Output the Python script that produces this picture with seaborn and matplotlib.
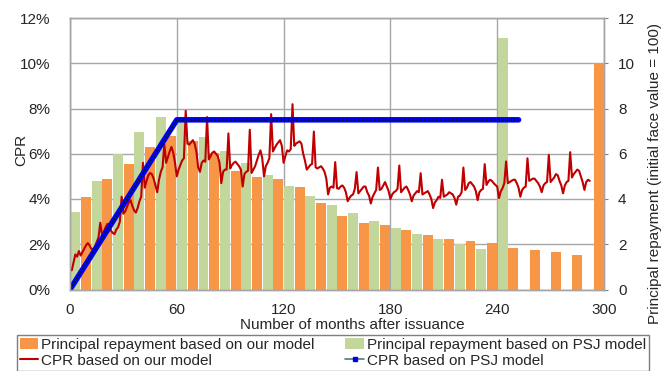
import numpy as np
import pandas as pd
import matplotlib
matplotlib.use("Agg")
import matplotlib.pyplot as plt
from matplotlib.lines import Line2D
from matplotlib.patches import Patch
import seaborn as sns

# -------------------------------
# Data
# -------------------------------
# annual principal repayment, initial face value = 100 (year 1 .. 25)
repay_ours = [4.1, 4.89, 5.55, 6.32, 6.79, 6.57, 6.05, 5.24, 4.99, 4.88,
              4.54, 3.84, 3.24, 2.96, 2.84, 2.63, 2.41, 2.25, 2.16, 2.04,
              1.85, 1.75, 1.65, 1.53, 10.0]
repay_psj = [3.44, 4.8, 6.0, 6.95, 7.63, 7.45, 6.75, 6.14, 5.6, 5.07,
             4.57, 4.14, 3.74, 3.37, 3.04, 2.73, 2.46, 2.22, 2.0, 1.78,
             11.1]

# monthly CPR (%) of our model, month 1 .. 292
cpr_ours = [
    0.85, 1.2, 1.55, 1.45,
    1.7, 1.5, 1.65, 1.8, 1.95, 2.05, 1.95, 1.8, 1.75, 1.9, 2.1, 2.3,
    2.95, 2.4, 2.55, 2.75, 2.9, 2.85, 2.6, 2.5, 2.45, 2.65, 2.75, 3.0,
    4.1, 3.35, 3.45, 3.65, 3.85, 3.95, 3.7, 3.5, 3.4, 3.6, 3.9, 4.1,
    5.6, 4.5, 4.8, 5.05, 5.15, 5.1, 4.9, 4.6, 4.3, 4.85, 5.2, 5.4,
    6.45, 5.6, 5.85, 6.1, 6.3, 6.05, 5.6, 5.0, 5.3, 5.5, 5.7, 5.8,
    7.9, 6.45, 6.4, 6.5, 6.6, 6.45, 6.1, 5.4, 5.2, 5.6, 5.7, 5.65,
    7.62, 5.75, 5.9, 6.05, 6.1, 6.0, 5.9, 5.6, 4.7, 5.2, 5.3, 5.3,
    6.9, 5.35, 5.5, 5.6, 5.65, 5.55, 5.45, 5.3, 4.55, 5.1, 5.2, 5.25,
    7.06, 5.15, 5.3, 5.45, 5.7, 5.95, 6.15, 5.8, 5.0, 5.45, 5.6, 5.8,
    7.75, 6.1, 6.25, 6.4, 6.5, 6.6, 6.35, 5.6, 5.9, 6.15, 6.1, 6.2,
    8.19, 6.35, 6.45, 6.5, 6.55, 6.45, 6.0, 5.7, 5.3, 5.4, 5.5, 5.55,
    6.98, 5.4, 5.35, 5.4, 5.45, 5.35, 5.2, 4.9, 4.2, 4.5, 4.55, 4.5,
    5.63, 4.48, 4.45, 4.55, 4.6, 4.5, 4.3, 3.9, 4.05, 4.15, 4.2, 4.45,
    5.19, 4.25, 4.35, 4.45, 4.55, 4.55, 4.3, 4.15, 3.8, 4.1, 4.25, 4.4,
    5.39, 4.4, 4.45, 4.6, 4.75, 4.55, 4.35, 4.0, 4.2, 4.3, 4.35, 4.45,
    5.48, 4.3, 4.4, 4.5, 4.55, 4.4, 4.2, 3.9, 4.15, 4.25, 4.35, 4.3,
    5.14, 4.2, 4.25, 4.3, 4.35, 4.2, 4.0, 3.6, 3.85, 3.95, 4.1, 4.05,
    4.85, 4.1, 4.15, 4.2, 4.3, 4.25, 4.2, 4.05, 3.75, 4.1, 4.15, 4.3,
    5.39, 4.4, 4.5, 4.7, 4.75, 4.65, 4.55, 4.35, 3.95, 4.3, 4.4, 4.45,
    5.54, 4.62, 4.77, 4.85, 4.8, 4.7, 4.62, 4.55, 4.04, 4.33, 4.48, 4.7,
    5.66, 4.7, 4.75, 4.8, 4.85, 4.85, 4.7, 4.5, 4.1, 4.4, 4.5, 4.55,
    5.8, 4.8, 4.85, 4.9, 4.9, 4.8, 4.7, 4.55, 4.3, 4.6, 4.7, 4.75,
    5.95, 4.75, 4.85, 4.95, 5.1, 5.05, 4.8, 4.6, 4.25, 4.6, 4.75, 4.8,
    6.07, 4.95, 5.1, 5.2, 5.3, 5.25, 5.0, 4.75, 4.4, 4.75, 4.85, 4.8,
]

# PSJ model CPR: ramp to 7.5% at month 60, then flat
psj_month = [0, 60, 252]
psj_cpr = [0.0, 7.5, 7.5]

x_ticks = [0, 60, 120, 180, 240, 300]
y_ticks = [0, 2, 4, 6, 8, 10, 12]

# -------------------------------
# Style
# -------------------------------
sns.set_style("white")
plt.rcParams['font.family'] = ['Liberation Sans', 'DejaVu Sans']
plt.rcParams['font.size'] = 11

c_ours = '#F79646'
c_psj = '#C3D69B'
c_red = '#C00000'
c_grid = '#A6A6A6'

# bar table: PSJ bar in first half of each year, ours in second half
bar_df = pd.DataFrame({
    'pos': [12 * i + 3 for i in range(len(repay_psj))] +
           [12 * i + 9 for i in range(len(repay_ours))],
    'value': repay_psj + repay_ours,
    'series': ['psj'] * len(repay_psj) + ['ours'] * len(repay_ours),
})
cpr_df = pd.DataFrame({'month': np.arange(1, len(cpr_ours) + 1), 'cpr': cpr_ours})
psj_df = pd.DataFrame({'month': psj_month, 'cpr': psj_cpr})

fig = plt.figure(figsize=(6.7, 3.71), dpi=100)
ax = fig.add_axes([70 / 670, 1 - 289.5 / 371, 534 / 670, 271.5 / 371])
ax2 = ax.twinx()
ax2.set_zorder(0)
ax.set_zorder(1)
ax.patch.set_visible(False)
ax2.patch.set_visible(True)
ax2.patch.set_facecolor('white')

# bars on the right-hand axis (behind the lines)
sns.barplot(data=bar_df, x='pos', y='value', hue='series',
            palette={'psj': c_psj, 'ours': c_ours}, native_scale=True,
            width=0.93, dodge=False, legend=False, errorbar=None,
            saturation=1, linewidth=0, ax=ax2)

# CPR lines
sns.lineplot(data=cpr_df, x='month', y='cpr', color=c_red, linewidth=1.5,
             ax=ax)
sns.lineplot(data=psj_df, x='month', y='cpr', color='#0000FF', linewidth=4,
             ax=ax)
sns.lineplot(data=psj_df, x='month', y='cpr', color='#001830', linewidth=1.4,
             linestyle=(0, (1.2, 0.8)), ax=ax)

for a in (ax, ax2):
    a.set_xlim(0, 300)
    a.set_ylim(0, 12)
    a.set_xlabel('')
    a.set_ylabel('')
    for s in a.spines.values():
        s.set_color(c_grid)
        s.set_linewidth(1)

ax.set_xticks(x_ticks)
ax.set_yticks(y_ticks)
ax.set_yticklabels([f'{v}%' for v in y_ticks])
ax2.set_yticks(y_ticks)
ax2.set_yticklabels([str(v) for v in y_ticks])

# grid lives on the back axis
ax2.xaxis.set_visible(True)
ax2.set_xticks(x_ticks)
ax2.tick_params(axis='x', bottom=False, labelbottom=False, top=False)
ax2.grid(True, color=c_grid, linewidth=1)
ax2.set_axisbelow(True)

ax.tick_params(axis='x', direction='in', length=4, color='#808080',
               pad=9.5, labelsize=11)
ax.tick_params(axis='y', left=False, pad=10.5, labelsize=11)
ax2.tick_params(axis='y', direction='out', length=3, color='#808080',
                pad=7, labelsize=11)

fig.text(21 / 670, 1 - 150 / 371, 'CPR', rotation=90, ha='center',
         va='center', fontsize=11)
fig.text(655 / 670, 1 - 174 / 371,
         'Principal repayment (initial face value = 100)', rotation=90,
         ha='center', va='center', fontsize=11)
fig.text(352 / 670, 1 - 325 / 371, 'Number of months after issuance',
         ha='center', va='center', fontsize=11)

# legend
handles = [
    Patch(facecolor=c_ours, edgecolor='none'),
    Line2D([], [], color=c_red, linewidth=1.5),
    Patch(facecolor=c_psj, edgecolor='none'),
    Line2D([], [], color='#4A7F7A', linewidth=1.2, marker='s',
           markersize=3.5, markerfacecolor='#0000CC',
           markeredgecolor='#0000FF'),
]
labels = ['Principal repayment based on our model', 'CPR based on our model',
          'Principal repayment based on PSJ model', 'CPR based on PSJ model']
leg = fig.legend(handles, labels, ncols=2, loc='upper left',
                 bbox_to_anchor=(17 / 670, 1 - 335 / 371),
                 frameon=True, fancybox=False, framealpha=1,
                 edgecolor='#7F7F7F', fontsize=11, handlelength=1.2,
                 handletextpad=0.2, columnspacing=2.0, labelspacing=0.1,
                 borderpad=0.2, borderaxespad=0)
leg.get_frame().set_linewidth(1)

fig.savefig('out.png', dpi=100)
